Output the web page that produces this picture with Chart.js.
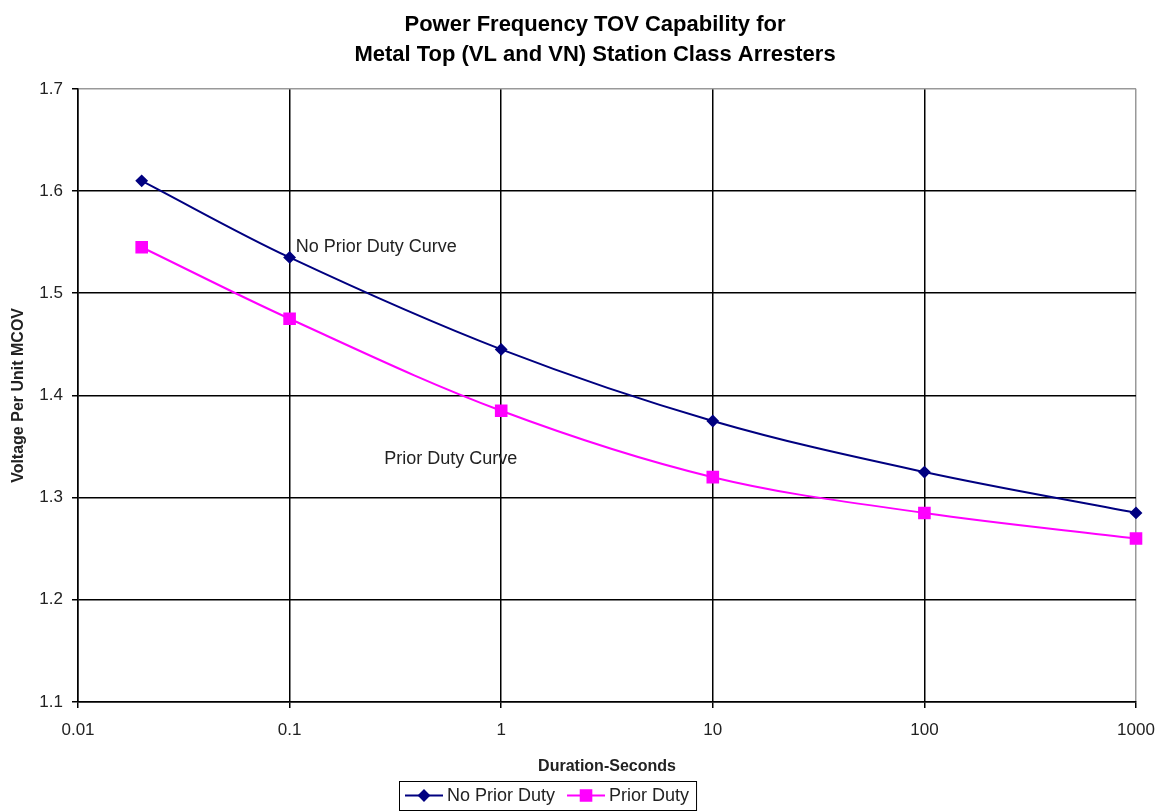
<!DOCTYPE html>
<html>
<head>
<meta charset="utf-8">
<script src="https://cdn.jsdelivr.net/npm/chart.js@4"></script>
<style>
  html, body { margin: 0; padding: 0; background: #fff; }
  #wrap { width: 1162px; height: 811px; }
</style>
</head>
<body>
<div id="wrap"><canvas id="myChart" width="1162" height="811"></canvas></div>
<script>
const durations = [0.02, 0.1, 1, 10, 100, 1000]
const noPriorDuty = [1.61, 1.535, 1.445, 1.375, 1.325, 1.285]
const priorDuty = [1.545, 1.475, 1.385, 1.32, 1.285, 1.26]
const xTickValues = [0.01, 0.1, 1, 10, 100, 1000]
const xTickLabels = ['0.01', '0.1', '1', '10', '100', '1000']
const yTickValues = [1.1, 1.2, 1.3, 1.4, 1.5, 1.6, 1.7]
const noteTexts = ['No Prior Duty Curve', 'Prior Duty Curve']
const noteX = [0.107, 0.28]
const noteY = [1.545, 1.338]

const font = 'Liberation Sans, Arial, sans-serif'

// text notes placed via the scales
const notesPlugin = {
  id: 'notes',
  afterDatasetsDraw(chart) {
    const {ctx, scales} = chart
    ctx.save()
    ctx.font = '18px ' + font
    ctx.fillStyle = '#222'
    ctx.textAlign = 'left'
    ctx.textBaseline = 'middle'
    noteTexts.forEach((t, i) => {
      ctx.fillText(t, scales.x.getPixelForValue(noteX[i]), scales.y.getPixelForValue(noteY[i]))
    })
    ctx.restore()
  }
}

// boxed legend below the axis title
const boxLegend = {
  id: 'boxLegend',
  afterDraw(chart) {
    const {ctx} = chart
    ctx.save()
    ctx.font = '18px ' + font
    ctx.textBaseline = 'middle'
    const top = 781, h = 29, cy = top + h / 2
    let x = 405
    const left = 399
    chart.data.datasets.forEach((ds) => {
      ctx.strokeStyle = ds.borderColor
      ctx.lineWidth = 2
      ctx.beginPath()
      ctx.moveTo(x, cy)
      ctx.lineTo(x + 38, cy)
      ctx.stroke()
      Chart.helpers.drawPoint(ctx, {pointStyle: ds.pointStyle, radius: ds.pointRadius, borderWidth: 1}, x + 19, cy)
      ctx.fillStyle = ds.borderColor
      ctx.fill()
      x += 42
      ctx.fillStyle = '#222'
      ctx.fillText(ds.label, x, cy + 1)
      x += ctx.measureText(ds.label).width + 12
    })
    ctx.strokeStyle = '#000'
    ctx.lineWidth = 1
    ctx.strokeRect(left + 0.5, top + 0.5, x - 12 + 7 - left, h)
    ctx.restore()
  }
}

// title sits a little left of the plot centre
const titleCenter = {
  id: 'titleCenter',
  afterLayout(chart) {
    if (chart.titleBlock) {
      chart.titleBlock.left = chart.chartArea.left - 24
      chart.titleBlock.right = chart.chartArea.right
    }
  }
}

new Chart(document.getElementById('myChart'), {
  type: 'line',
  data: {
    datasets: [
      {
        label: 'No Prior Duty',
        data: durations.map((d, i) => ({x: d, y: noPriorDuty[i]})),
        borderColor: '#000080',
        backgroundColor: '#000080',
        borderWidth: 2,
        pointStyle: 'rectRot',
        pointRadius: 5,
        tension: 0.35,
        clip: false
      },
      {
        label: 'Prior Duty',
        data: durations.map((d, i) => ({x: d, y: priorDuty[i]})),
        borderColor: '#ff00ff',
        backgroundColor: '#ff00ff',
        borderWidth: 2,
        pointStyle: 'rect',
        pointRadius: 7.5,
        tension: 0.35,
        clip: false
      }
    ]
  },
  plugins: [notesPlugin, boxLegend, titleCenter],
  options: {
    responsive: false,
    animation: false,
    layout: {padding: {left: 0, right: 26, top: 0, bottom: 33}},
    plugins: {
      legend: {display: false},
      tooltip: {enabled: false},
      title: {
        display: true,
        text: ['Power Frequency TOV Capability for', 'Metal Top (VL and VN) Station Class Arresters'],
        color: '#000',
        font: {family: font, size: 22, weight: 'bold', lineHeight: 1.36},
        padding: {top: 10, bottom: 19}
      }
    },
    scales: {
      x: {
        type: 'logarithmic',
        min: 0.01,
        max: 1000,
        afterBuildTicks: (scale) => { scale.ticks = xTickValues.map(v => ({value: v})) },
        afterFit: (scale) => {
          scale.height = 76
          scale.paddingLeft = 0
          scale.paddingRight = 0
        },
        ticks: {
          color: '#222',
          font: {family: font, size: 17},
          padding: 12,
          maxRotation: 0,
          autoSkip: false,
          callback: (v, i) => xTickLabels[i]
        },
        grid: {
          color: (c) => (c.tick && c.tick.value >= 1000 ? '#999' : '#000'),
          lineWidth: 1.5,
          tickLength: 6,
          tickColor: '#000',
          tickWidth: 1.5
        },
        border: {display: true, color: '#000', width: 1.5},
        title: {
          display: true,
          text: 'Duration-Seconds',
          color: '#222',
          font: {family: font, size: 16, weight: 'bold'},
          padding: {top: 0, bottom: 2}
        }
      },
      y: {
        min: 1.1,
        max: 1.7,
        afterBuildTicks: (scale) => { scale.ticks = yTickValues.map(v => ({value: v})) },
        afterFit: (scale) => { scale.width = 78 },
        ticks: {
          color: '#222',
          font: {family: font, size: 17},
          padding: 9,
          callback: (v) => v.toFixed(1)
        },
        grid: {
          color: (c) => (c.tick && c.tick.value >= 1.7 - 1e-9 ? '#999' : '#000'),
          lineWidth: 1.5,
          tickLength: 6,
          tickColor: '#000',
          tickWidth: 1.5
        },
        border: {display: true, color: '#000', width: 1.5},
        title: {
          display: true,
          text: 'Voltage Per Unit MCOV',
          color: '#222',
          font: {family: font, size: 16, weight: 'bold'},
          padding: {top: 9, bottom: 0}
        }
      }
    }
  }
})
</script>
</body>
</html>
